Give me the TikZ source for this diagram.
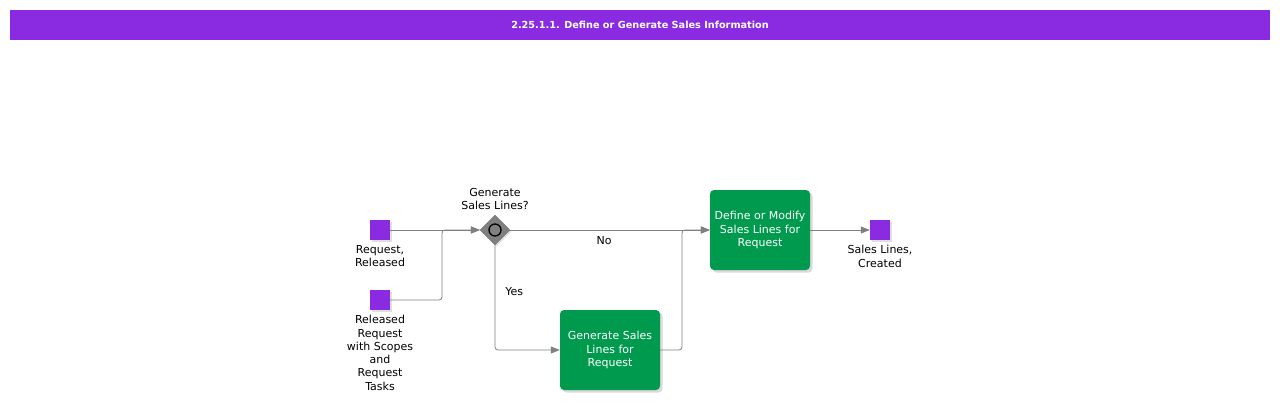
\documentclass[tikz,border=0pt]{standalone}
\usepackage{fontspec}
\setmainfont{DejaVu Sans}
\usetikzlibrary{positioning, shadows, arrows.meta, shapes.geometric}
\definecolor{evpurple}{HTML}{8A2BE2}
\definecolor{taskgreen}{HTML}{009A4E}
\definecolor{flowgray}{HTML}{808080}

\begin{document}
\begin{tikzpicture}[x=1pt, y=-1pt,
   node distance = 4pt,
every node/.style = {font=\fontsize{11}{13.3}\selectfont},
    event/.style = {rectangle, fill=evpurple, minimum size=20pt,
                    inner sep=0pt, drop shadow={shadow xshift=1.5pt,
                    shadow yshift=-1.5pt, opacity=0.25}},
     task/.style = {rectangle, rounded corners=4pt, fill=taskgreen,
                    minimum width=100pt, minimum height=80pt,
                    align=center, text=white,
                    drop shadow={shadow xshift=2.5pt,
                    shadow yshift=-2.5pt, opacity=0.3}},
     gate/.style = {diamond, fill=flowgray, draw=black!55,
                    minimum width=30pt, minimum height=30pt, inner sep=0pt,
                    drop shadow={shadow xshift=1.5pt,
                    shadow yshift=-1.5pt, opacity=0.25}},
      lbl/.style = {align=center, inner sep=0pt},
     flow/.style = {draw=flowgray, line width=0.8pt, rounded corners=3pt,
                    -{Triangle[length=9pt, width=7pt]}}
                    ]
  \useasboundingbox (0,0) rectangle (1280,405);
  % title bar
  \node (title) [fill=evpurple, minimum width=1260pt, minimum height=30pt,
        text=white, font=\bfseries\fontsize{9.7}{12}\selectfont]
        at (640,25) {2.25.1.1. Define or Generate Sales Information};
  % events
  \node (rel)  [event] at (380,230) {};
  \node (rlt)  [event] at (380,300) {};
  \node (crt)  [event] at (880,230) {};
  \node (relL) [lbl, below=5pt of rel] {Request,\\Released};
  \node (rltL) [lbl, below=5pt of rlt] {Released\\Request\\with Scopes\\and\\Request\\Tasks};
  \node (crtL) [lbl, below=5pt of crt] {Sales Lines,\\Created};
  % gateway
  \node (gen)  [gate] at (495,230) {};
  \node (genC) [circle, draw, line width=1.3pt, minimum size=12pt,
        inner sep=0pt] at (gen) {};
  \node (genL) [lbl, above=5pt of gen] {Generate\\Sales Lines?};
  % tasks
  \node (gsl) [task] at (610,350) {Generate Sales\\Lines for\\Request};
  \node (dsl) [task] at (760,230) {Define or Modify\\Sales Lines for\\Request};
  \coordinate (j1) at (442,230);
  \coordinate (j2) at (682,230);
  % flows
  \draw [flow] (rel) -- (gen);
  \draw [flow] (rlt) -| (j1) -- (gen.west);
  \draw [flow] (gen) -- (dsl)
        node (no) [lbl, pos=0.47, below=6pt] {No};
  \draw [flow] (gen) |- (gsl)
        node (yes) [lbl, pos=0.22, right=10pt] {Yes};
  \draw [flow] (gsl) -| (j2) -- (dsl.west);
  \draw [flow] (dsl) -- (crt);
\end{tikzpicture}
\end{document}
